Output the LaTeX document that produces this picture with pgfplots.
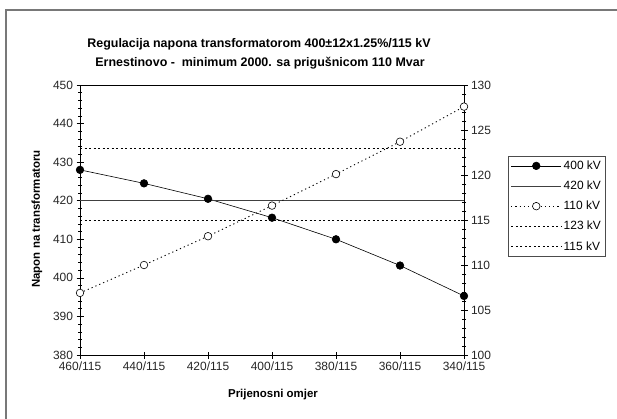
\documentclass[border=0pt]{standalone}
\usepackage{fontspec}
\setmainfont{Liberation Sans}
\usepackage{pgfplots}
\pgfplotsset{compat=1.18}
\definecolor{framegray}{RGB}{120,120,120}
\begin{document}
\begin{tikzpicture}[x=1bp,y=1bp]
\useasboundingbox (0,0) rectangle (617,418);
\draw[framegray, line width=2bp] (6,-2) -- (6,408) -- (620,408);
\node[font=\bfseries\fontsize{12.5}{15}\selectfont] at (259,374) {Regulacija napona transformatorom 400±12x1.25\%/115 kV};
\node[font=\bfseries\fontsize{12.5}{15}\selectfont] at (260,355) {Ernestinovo -\ \ minimum 2000. sa prigušnicom 110 Mvar};
\node[font=\bfseries\fontsize{11.5}{13}\selectfont] at (273,23) {Prijenosni omjer};
\node[font=\bfseries\fontsize{11.5}{13}\selectfont, rotate=90] at (37,199) {Napon na transformatoru};
\begin{axis}[
  at={(80bp,63bp)}, anchor=south west,
  scale only axis, width=384bp, height=270bp,
  xmin=0, xmax=6, ymin=380, ymax=450,
  xtick={0,...,6},
  xticklabels={460/115,440/115,420/115,400/115,380/115,360/115,340/115},
  ytick={380,390,...,450}, minor y tick num=4,
  xtick pos=bottom, ytick pos=left,
  tick align=center, major tick length=7bp, minor tick length=4bp,
  tick style={black, line width=0.6bp},
  axis line style={line width=0.8bp},
  ticklabel style={font=\fontsize{12}{14}\selectfont, text=black!85},
  /pgf/number format/assume math mode=true,
  clip=false,
]
\addplot[black, line width=0.6bp, mark=*, mark size=3.8bp, mark options={solid, fill=black}] coordinates {
  (0,428.0) (1,424.5) (2,420.5) (3,415.6) (4,410.0) (5,403.2) (6,395.3)};
\addplot[black!75, line width=0.7bp] coordinates {(0,420) (6,420)};
\end{axis}
\begin{axis}[
  at={(80bp,63bp)}, anchor=south west,
  scale only axis, width=384bp, height=270bp,
  xmin=0, xmax=6, ymin=100, ymax=130,
  axis x line=none, axis y line*=right,
  ytick={100,105,...,130}, minor y tick num=4,
  tick align=center, major tick length=7bp, minor tick length=4bp,
  tick style={black, line width=0.6bp},
  axis line style={line width=0.8bp},
  ticklabel style={font=\fontsize{12}{14}\selectfont, text=black!85},
  /pgf/number format/assume math mode=true,
  clip=false,
  legend style={at={(1,1)}, anchor=north west, xshift=44bp, yshift=-71bp,
    draw=black!70, line width=0.6bp, font=\fontsize{12}{14}\selectfont,
    inner sep=2.5bp, row sep=6bp},
  legend cell align=left,
  legend image code/.code={\draw[mark repeat=2, mark phase=2] plot coordinates {(0bp,0bp) (25bp,0bp) (50bp,0bp)};},
]
\addlegendimage{black, line width=0.6bp, mark=*, mark size=3.8bp, mark options={solid, fill=black}}
\addlegendentry{400 kV}
\addlegendimage{black!75, line width=0.7bp}
\addlegendentry{420 kV}
\addplot[black, line width=0.9bp, dash pattern=on 1.2bp off 3bp, mark=*, mark size=3.8bp, mark options={solid, fill=white, line width=0.6bp}] coordinates {
  (0,106.9) (1,110.0) (2,113.2) (3,116.6) (4,120.1) (5,123.7) (6,127.6)};
\addlegendentry{110 kV}
\addplot[black, line width=0.7bp, dash pattern=on 2bp off 2.5bp] coordinates {(0,123) (6,123)};
\addlegendentry{123 kV}
\addplot[black, line width=0.7bp, dash pattern=on 2bp off 2.5bp] coordinates {(0,115) (6,115)};
\addlegendentry{115 kV}
\end{axis}
\end{tikzpicture}
\end{document}
